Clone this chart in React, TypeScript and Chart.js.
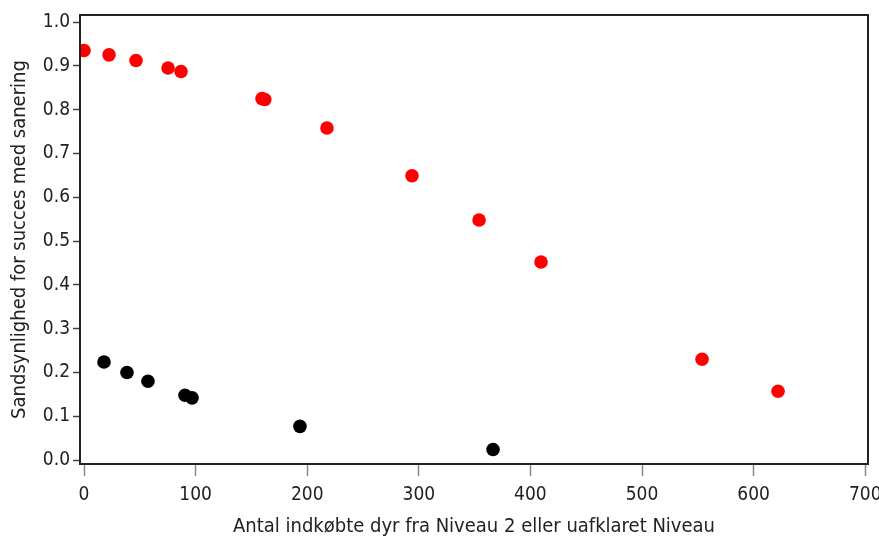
import React, { useEffect, useRef } from "react";
import { Chart, registerables } from "chart.js";

Chart.register(...registerables);

const redX = [0, 22.4, 46.6, 75.3, 86.9, 159.5, 162, 217.7, 293.9, 354, 409.5, 553.8, 621.9];
const redY = [0.935, 0.925, 0.912, 0.895, 0.887, 0.825, 0.823, 0.758, 0.649, 0.548, 0.452, 0.23, 0.157];
const blackX = [17.9, 38.5, 57.3, 90.5, 96.8, 193.5, 366.5];
const blackY = [0.224, 0.2, 0.18, 0.148, 0.142, 0.077, 0.024];
const xTicks = [0, 100, 200, 300, 400, 500, 600, 700];
const yTicks = [0, 0.1, 0.2, 0.3, 0.4, 0.5, 0.6, 0.7, 0.8, 0.9, 1.0];
const xTitle = "Antal indkøbte dyr fra Niveau 2 eller uafklaret Niveau";
const yTitle = "Sandsynlighed for succes med sanering";

const FONT = "'Liberation Sans Narrow', 'DejaVu Sans Condensed', sans-serif";

const framePlugin = {
  id: "frame",
  afterDraw(chart: any) {
    const { ctx, chartArea } = chart;
    ctx.save();
    ctx.strokeStyle = "#222";
    ctx.lineWidth = 2;
    ctx.strokeRect(chartArea.left, chartArea.top, chartArea.right - chartArea.left, chartArea.bottom - chartArea.top);
    ctx.restore();
  },
};

export default function App() {
  const ref = useRef<HTMLCanvasElement>(null);
  useEffect(() => {
    document.body.style.margin = "0";
    const chart = new Chart(ref.current!, {
      type: "scatter",
      data: {
        datasets: [
          {
            data: redX.map((x, i) => ({ x, y: redY[i] })),
            backgroundColor: "#ff0000",
            borderWidth: 0,
            pointRadius: 6.8,
          },
          {
            data: blackX.map((x, i) => ({ x, y: blackY[i] })),
            backgroundColor: "#000000",
            borderWidth: 0,
            pointRadius: 6.8,
          },
        ],
      },
      options: {
        animation: false,
        responsive: false,
        layout: { padding: { top: 15, right: 11, left: 0, bottom: 0 } },
        plugins: { legend: { display: false }, tooltip: { enabled: false } },
        scales: {
          x: {
            type: "linear",
            min: -3.6,
            max: 702.5,
            afterBuildTicks: (s: any) => {
              s.ticks = xTicks.map((v) => ({ value: v }));
            },
            afterFit: (s: any) => {
              s.height = 73;
              s.paddingLeft = 0;
              s.paddingRight = 0;
            },
            border: { display: false },
            grid: { drawOnChartArea: false, drawTicks: true, tickLength: 12, tickColor: "#888", tickWidth: 1.5 },
            ticks: { color: "#222", font: { family: FONT, size: 19 }, padding: 8, maxRotation: 0, callback: (v: any) => String(v) },
            title: { display: true, text: xTitle, color: "#222", font: { family: FONT, size: 20, lineHeight: 1 }, padding: { top: 0, bottom: 0 } },
          },
          y: {
            type: "linear",
            min: -0.009,
            max: 1.016,
            afterBuildTicks: (s: any) => {
              s.ticks = yTicks.map((v) => ({ value: v }));
            },
            afterFit: (s: any) => {
              s.width = 80;
              s.paddingTop = 0;
              s.paddingBottom = 0;
            },
            border: { display: false },
            grid: { drawOnChartArea: false, drawTicks: true, tickLength: 7, tickColor: "#444", tickWidth: 1.5 },
            ticks: { color: "#222", font: { family: FONT, size: 19 }, padding: 3, callback: (v: any) => Number(v).toFixed(1) },
            title: { display: true, text: yTitle, color: "#222", font: { family: FONT, size: 20 }, padding: { top: 8, bottom: 0 } },
          },
        },
      },
      plugins: [framePlugin],
    });
    return () => chart.destroy();
  }, []);
  return (
    <div style={{ width: 879, height: 537, background: "#fff" }}>
      <canvas ref={ref} width={879} height={537} style={{ display: "block" }} />
    </div>
  );
}
